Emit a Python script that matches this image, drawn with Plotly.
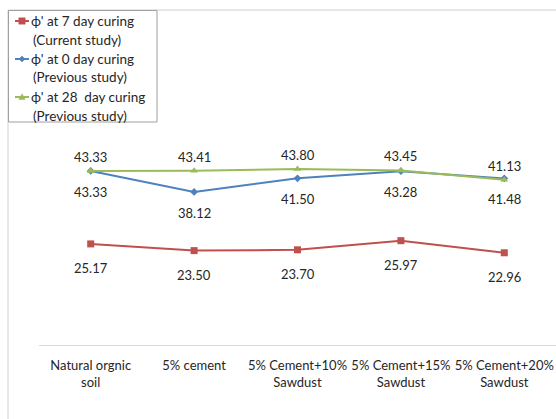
import plotly.graph_objects as go

categories = ["Natural orgnic<br>soil", "5% cement", "5% Cement+10%<br>Sawdust",
              "5% Cement+15%<br>Sawdust", "5% Cement+20%<br>Sawdust"]
phi_7day_current = [25.17, 23.50, 23.70, 25.97, 22.96]
phi_0day_previous = [43.33, 38.12, 41.50, 43.28, 41.48]
phi_28day_previous = [43.33, 43.41, 43.80, 43.45, 41.13]

legend_line1 = ["ϕ' at 7 day curing", "ϕ' at 0 day curing", "ϕ' at 28\u00a0 day curing"]
legend_line2 = ["(Current study)", "(Previous study)", "(Previous study)"]
colors = ["#C0504D", "#4F81BD", "#9BBB59"]
symbols = ["square", "diamond", "triangle-up"]
sizes = [7, 6, 7]
series = [phi_7day_current, phi_0day_previous, phi_28day_previous]
label_shift = [-24, -21, 14]  # labels below for 7/0 day, above for 28 day

FONT = "Lato, 'Open Sans', sans-serif"
TEXT = "#262626"

W, H = 556, 419
L, R, T, B = 39, 0, 104, 74
pw, ph = W - L - R, H - T - B


def px_x(p):
    return (p - L) / pw


def px_y(p):
    return (H - B - p) / ph


fig = go.Figure()
x_idx = list(range(len(categories)))
for name, vals, c, s, sz in zip(legend_line1, series, colors, symbols, sizes):
    fig.add_trace(go.Scatter(
        x=x_idx, y=vals, name=name, mode="lines+markers", showlegend=False,
        line=dict(color=c, width=2),
        marker=dict(symbol=s, size=sz, color=c),
    ))

annotations = []
for vals, shift in zip(series, label_shift):
    for i, v in enumerate(vals):
        annotations.append(dict(
            x=i, y=v, xref="x", yref="y", text=f"{v:.2f}", showarrow=False,
            yshift=shift, font=dict(family=FONT, size=13, color=TEXT),
        ))

# chart-area frame (runs past the right and bottom edges)
shapes = [dict(type="line", xref="paper", yref="paper",
               x0=px_x(8), x1=px_x(600), y0=px_y(10), y1=px_y(10),
               line=dict(color="#D0D0D0", width=1)),
          dict(type="line", xref="paper", yref="paper",
               x0=px_x(8), x1=px_x(8), y0=px_y(10), y1=px_y(460),
               line=dict(color="#D0D0D0", width=1))]

# legend box
shapes.append(dict(type="rect", xref="paper", yref="paper",
                   x0=px_x(8.5), x1=px_x(157), y0=px_y(10.5), y1=px_y(122),
                   fillcolor="white", line=dict(color="#A0A0A0", width=1)))


def marker_path(sym, cx, cy, r):
    if sym == "square":
        pts = [(cx - r, cy - r), (cx + r, cy - r), (cx + r, cy + r), (cx - r, cy + r)]
    elif sym == "diamond":
        pts = [(cx, cy - r), (cx + r, cy), (cx, cy + r), (cx - r, cy)]
    else:
        pts = [(cx, cy - r), (cx + r, cy + r * 0.8), (cx - r, cy + r * 0.8)]
    return "M " + " L ".join(f"{px_x(x)},{px_y(y)}" for x, y in pts) + " Z"


row_y = [21, 59, 97]
for i, (l1, l2, c, s) in enumerate(zip(legend_line1, legend_line2, colors, symbols)):
    y0 = row_y[i]
    shapes.append(dict(type="line", xref="paper", yref="paper",
                       x0=px_x(15), x1=px_x(29), y0=px_y(y0), y1=px_y(y0),
                       line=dict(color=c, width=2)))
    shapes.append(dict(type="path", xref="paper", yref="paper",
                       path=marker_path(s, 22, y0, 3.2 if s != "diamond" else 3),
                       fillcolor=c, line=dict(color=c, width=0.5)))
    annotations.append(dict(x=px_x(29), y=px_y(y0), xref="paper", yref="paper",
                            xanchor="left", yanchor="middle", text=l1, showarrow=False,
                            font=dict(family=FONT, size=13.5, color=TEXT)))
    annotations.append(dict(x=px_x(31), y=px_y(y0 + 18.5), xref="paper", yref="paper",
                            xanchor="left", yanchor="middle", text=l2, showarrow=False,
                            font=dict(family=FONT, size=13.5, color=TEXT)))

fig.update_layout(
    width=W, height=H,
    margin=dict(l=L, r=R, t=T, b=B),
    paper_bgcolor="white", plot_bgcolor="white",
    font=dict(family=FONT, size=13, color=TEXT),
    showlegend=False,
    xaxis=dict(tickmode="array", tickvals=x_idx, ticktext=categories,
               range=[-0.5, 4.5], showgrid=False, zeroline=False,
               showline=True, linecolor="#D9D9D9", linewidth=1, ticks="",
               ticklabelstandoff=8,
               tickfont=dict(family=FONT, size=13, color=TEXT)),
    yaxis=dict(range=[0, 60], visible=False),
    annotations=annotations,
    shapes=shapes,
)

fig.write_html("out.html")
